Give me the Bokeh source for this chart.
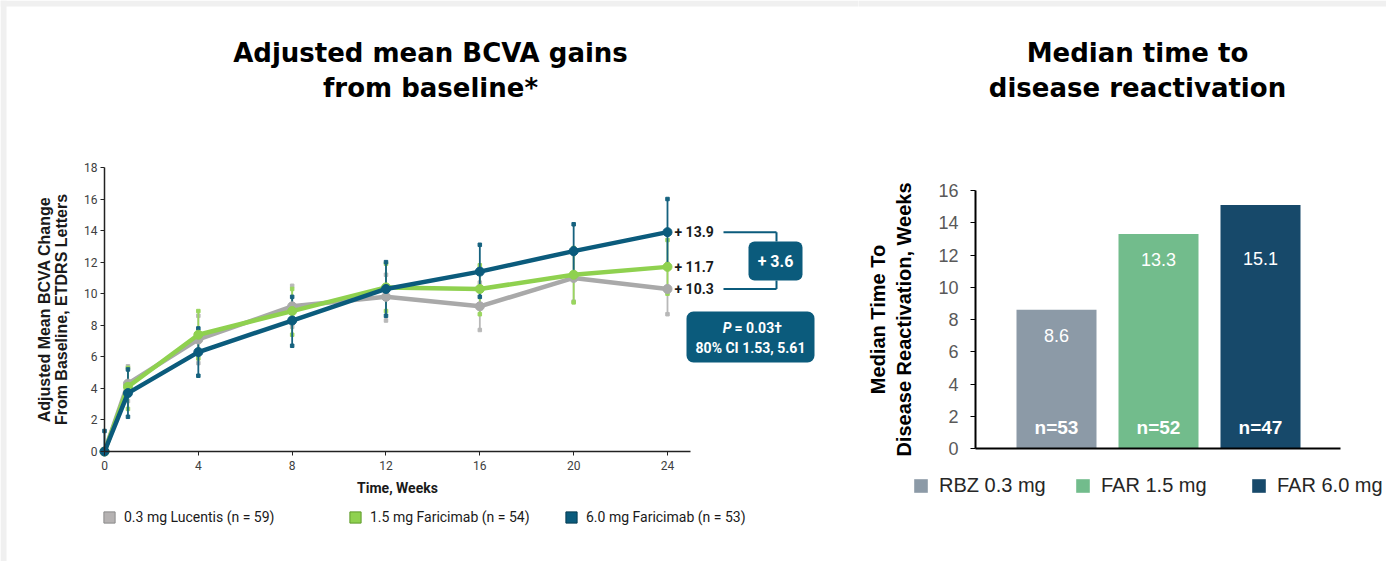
from bokeh.plotting import figure
from bokeh.models import (Range1d, FixedTicker, Label, BoxAnnotation,
                          Legend, LegendItem, ColumnDataSource)
from bokeh.layouts import row
from bokeh.embed import file_html
from bokeh.resources import INLINE
from bokeh.core.properties import value

# ---------------- data: left chart (BCVA change) ----------------
weeks = [0, 1, 4, 8, 12, 16, 20, 24]
x_ticks = [0, 4, 8, 12, 16, 20, 24]
y_ticks = [0, 2, 4, 6, 8, 10, 12, 14, 16, 18]

lucentis = [0, 4.3, 7.1, 9.2, 9.8, 9.2, 11.0, 10.3]
lucentis_lo = [0, 3.2, 5.6, 7.9, 8.3, 7.7, 9.5, 8.7]
lucentis_hi = [0, 5.4, 8.6, 10.5, 11.2, 10.7, 12.5, 11.9]

far15 = [0, 4.1, 7.4, 8.9, 10.4, 10.3, 11.2, 11.7]
far15_lo = [0, 2.7, 5.9, 7.4, 8.9, 8.7, 9.45, 10.0]
far15_hi = [0, 5.3, 8.9, 10.3, 11.9, 11.8, 12.9, 13.4]

far60 = [0, 3.7, 6.3, 8.3, 10.3, 11.4, 12.7, 13.9]
far60_lo = [0, 2.2, 4.8, 6.7, 8.6, 9.8, 11.0, 11.8]
far60_hi = [1.3, 5.2, 7.8, 9.8, 12.0, 13.1, 14.4, 16.0]

series_labels = ["0.3 mg Lucentis (n = 59)", "1.5 mg Faricimab (n = 54)",
                 "6.0 mg Faricimab (n = 53)"]
p_value = "0.03"
ci_low, ci_high = "1.53", "5.61"

# ---------------- data: right chart (median time) ----------------
groups = ["RBZ 0.3 mg", "FAR 1.5 mg", "FAR 6.0 mg"]
median_weeks = [8.6, 13.3, 15.1]
n_patients = [53, 52, 47]
bar_y_ticks = [0, 2, 4, 6, 8, 10, 12, 14, 16]

# ---------------- styles ----------------
NARROW = "Roboto"
BASE = "Liberation Sans"
TITLE_FONT = "DejaVu Sans"
GRAY, GREEN, BLUE = "#a9a9a9", "#8fd14f", "#0b5b7c"
GRAY_ERR, GREEN_ERR, BLUE_ERR = "#b8b8b8", "#9ad65e", "#16627f"
BAR_COLORS = ["#8c9aa7", "#72bc8c", "#17496a"]
PAGE_BG = "#f0f0f0"
W_LEFT, W_RIGHT, H = 858, 528, 561


# pixel -> data helpers (layout only)
def lx(px):
    return (px - 104) / 23.458


def ly(py):
    return (451 - py) / 15.78


def rx(px):
    return 1 + (px - 1056) / 102.0


def ry(py):
    return (448 - py) / 16.125


# =================== LEFT FIGURE ===================
left = figure(width=W_LEFT, height=H, x_range=Range1d(lx(0), lx(W_LEFT)),
              y_range=Range1d(ly(H), ly(0)),
              output_backend="svg", toolbar_location=None, tools="",
              min_border=0)
left.outline_line_color = None
left.grid.visible = False
left.background_fill_color = "white"
left.border_fill_color = "white"

# light page border strips (top and left)
left.add_layout(BoxAnnotation(left=lx(0), right=lx(W_LEFT + 2), top=ly(0), bottom=ly(6),
                              fill_color=PAGE_BG, fill_alpha=1, line_color=None,
                              level="underlay"))
left.add_layout(BoxAnnotation(left=lx(0), right=lx(6), top=ly(0), bottom=ly(H),
                              fill_color=PAGE_BG, fill_alpha=1, line_color=None,
                              level="underlay"))

xa = left.xaxis[0]
xa.fixed_location = 0
xa.bounds = (0, 25)
xa.ticker = FixedTicker(ticks=x_ticks)
xa.axis_label = "Time, Weeks"
xa.axis_label_text_font = NARROW
xa.axis_label_text_font_style = "bold"
xa.axis_label_text_font_size = "14px"
xa.axis_label_text_color = "#1a1a1a"
xa.axis_label_standoff = 7
xa.major_label_text_font = NARROW
xa.major_label_text_font_size = "12px"
xa.major_label_text_color = "#404040"
xa.major_label_standoff = 5
xa.major_tick_out = 4
xa.major_tick_in = 0
xa.minor_tick_line_color = None
xa.axis_line_width = 1.5
xa.axis_line_color = "#222222"
xa.major_tick_line_color = "#222222"

ya = left.yaxis[0]
ya.fixed_location = 0
ya.bounds = (0, 18)
ya.ticker = FixedTicker(ticks=y_ticks)
ya.axis_label = "Adjusted Mean BCVA Change\nFrom Baseline, ETDRS Letters"
ya.axis_label_text_font = BASE
ya.axis_label_text_font_style = "bold"
ya.axis_label_text_font_size = "16px"
ya.axis_label_text_line_height = 1.0
ya.axis_label_text_color = "#1a1a1a"
ya.axis_label_standoff = 11
ya.major_label_text_font = NARROW
ya.major_label_text_font_size = "12px"
ya.major_label_text_color = "#404040"
ya.major_label_standoff = 3
ya.major_tick_out = 4
ya.major_tick_in = 0
ya.minor_tick_line_color = None
ya.axis_line_width = 1.5
ya.axis_line_color = "#222222"
ya.major_tick_line_color = "#222222"

series = [
    (lucentis, lucentis_lo, lucentis_hi, GRAY, GRAY_ERR),
    (far15, far15_lo, far15_hi, GREEN, GREEN_ERR),
    (far60, far60_lo, far60_hi, BLUE, BLUE_ERR),
]

# legend proxy renderers (zero-size, hidden under the origin marker)
legend_line = ["#8a8a8a", "#5f9a2a", "#063c52"]
proxies = []
for (vals, lo, hi, c, ce), lc in zip(series, legend_line):
    fill = "#b5b2b2" if c == GRAY else c
    proxies.append(left.vbar(x=[weeks[0]], top=[0], bottom=[0], width=0,
                             fill_color=fill, line_color=lc, level="underlay"))

# error bars
for vals, lo, hi, c, ce in series:
    left.segment(x0=weeks, y0=lo, x1=weeks, y1=hi, line_color=ce, line_width=1.8)
    left.scatter(x=weeks + weeks, y=lo + hi, marker="square", size=3.5,
                 fill_color=ce, line_color=ce)
# lines and markers
for vals, lo, hi, c, ce in series:
    left.line(weeks, vals, line_color=c, line_width=4.5, line_join="round")
    left.scatter(weeks, vals, size=9, fill_color=c, line_color=c)

# end value labels
last_vals = [s[0][-1] for s in series]
left.text(x=[weeks[-1]] * 3, y=last_vals, text=[f"+ {v:.1f}" for v in last_vals],
          x_offset=7, text_baseline="middle", text_align="left",
          text_font=value(NARROW), text_font_style="bold", text_font_size="14px",
          text_color="#1a1a1a")

# bracket and difference box
diff = far60[-1] - lucentis[-1]
bx0, bx1 = lx(723), lx(776)
box_top, box_bot = ly(241), ly(280)
left.segment(x0=[bx0, bx1, bx0, bx1],
             y0=[far60[-1], far60[-1], lucentis[-1], lucentis[-1]],
             x1=[bx1, bx1, bx1, bx1],
             y1=[far60[-1], box_top, lucentis[-1], box_bot],
             line_color=BLUE, line_width=2)
left.add_layout(BoxAnnotation(left=lx(748), right=lx(802), top=box_top, bottom=box_bot,
                              fill_color=BLUE, fill_alpha=1, line_color=None,
                              border_radius=6))
left.add_layout(Label(x=lx(775), y=(box_top + box_bot) / 2, text=f"+ {diff:.1f}",
                      text_align="center", text_baseline="middle", text_color="white",
                      text_font=NARROW, text_font_style="bold", text_font_size="16px"))

# P value box
left.add_layout(BoxAnnotation(left=lx(686), right=lx(814), top=ly(311), bottom=ly(362),
                              fill_color=BLUE, fill_alpha=1, line_color=None,
                              border_radius=7))
left.add_layout(Label(x=lx(731), y=ly(327), text="P", text_align="right",
                      text_baseline="middle", text_color="white", text_font=NARROW,
                      text_font_style="bold italic", text_font_size="14px"))
left.add_layout(Label(x=lx(731), y=ly(327), x_offset=3, text=f"= {p_value}\u2020",
                      text_align="left", text_baseline="middle", text_color="white",
                      text_font=NARROW, text_font_style="bold", text_font_size="14px"))
left.add_layout(Label(x=lx(750), y=ly(347), text=f"80% CI {ci_low}, {ci_high}",
                      text_align="center", text_baseline="middle", text_color="white",
                      text_font=NARROW, text_font_style="bold", text_font_size="14px"))

# legend (square swatches)
legend_x = [102, 348, 564]
for lab, r, lpx in zip(series_labels, proxies, legend_x):
    lg = Legend(items=[LegendItem(label=lab, renderers=[r])], location=(lpx, H - 525),
                orientation="horizontal", padding=0, margin=0, spacing=0,
                glyph_width=14, glyph_height=14, label_standoff=8,
                label_text_font=NARROW, label_text_font_size="14px",
                label_text_color="#1a1a1a", label_height=14,
                border_line_color=None, background_fill_alpha=0)
    left.add_layout(lg)

# title
for txt, py in [("Adjusted mean BCVA gains", 52), ("from baseline*", 87)]:
    left.add_layout(Label(x=lx(430), y=ly(py), text=txt,
                          text_align="center", text_baseline="alphabetic",
                          text_font=TITLE_FONT, text_font_style="bold",
                          text_font_size="26px", text_color="black"))

# =================== RIGHT FIGURE ===================
right = figure(width=W_RIGHT, height=H, x_range=Range1d(rx(W_LEFT), rx(W_LEFT + W_RIGHT)),
               y_range=Range1d(ry(H), ry(0)),
               output_backend="svg", toolbar_location=None, tools="",
               min_border=0)
right.outline_line_color = None
right.grid.visible = False
right.background_fill_color = "white"
right.border_fill_color = "white"
right.add_layout(BoxAnnotation(left=rx(W_LEFT - 2), right=rx(W_LEFT + W_RIGHT), top=ry(0),
                               bottom=ry(6), fill_color=PAGE_BG, fill_alpha=1,
                               line_color=None, level="underlay"))

bar_x = [i + 1 for i in range(len(groups))]
src = ColumnDataSource(dict(
    x=bar_x,
    group=groups,
    weeks=median_weeks,
    color=BAR_COLORS,
    label_y=[min(v - 1.6, 11.8) for v in median_weeks],
    value_text=[f"{v:.1f}" for v in median_weeks],
    n_text=[f"n={n}" for n in n_patients],
))
bars = right.vbar(x="x", top="weeks", width=80 / 102.0, fill_color="color",
                  line_color=None, source=src)
right.text(x="x", y="label_y", text="value_text", source=src, text_align="center",
           text_baseline="middle", text_color="white", text_font=value(BASE),
           text_font_size="18px")
right.text(x="x", y=1.3, text="n_text", source=src, text_align="center",
           text_baseline="middle", text_color="white", text_font=value(BASE),
           text_font_style="bold", text_font_size="19px")

rxa = right.xaxis[0]
rxa.fixed_location = 0
rxa.bounds = (rx(975), rx(1340))
rxa.ticker = FixedTicker(ticks=[])
rxa.major_label_text_color = None
rxa.major_tick_line_color = None
rxa.minor_tick_line_color = None
rxa.axis_line_width = 2
rxa.axis_line_color = "black"

rya = right.yaxis[0]
rya.fixed_location = rx(975)
rya.bounds = (0, 16)
rya.ticker = FixedTicker(ticks=bar_y_ticks)
rya.axis_label = "Median Time To\nDisease Reactivation, Weeks"
rya.axis_label_text_font = BASE
rya.axis_label_text_font_style = "bold"
rya.axis_label_text_font_size = "20px"
rya.axis_label_text_line_height = 1.2
rya.axis_label_text_color = "black"
rya.axis_label_standoff = 20
rya.major_label_text_font = BASE
rya.major_label_text_font_size = "18px"
rya.major_label_text_color = "#595959"
rya.major_label_standoff = 12
rya.major_tick_out = 5
rya.major_tick_in = 0
rya.minor_tick_line_color = None
rya.axis_line_width = 2
rya.axis_line_color = "black"
rya.major_tick_line_color = "black"

for i, (g, lpx) in enumerate(zip(groups, [912, 1074, 1250])):
    lg = Legend(items=[LegendItem(label=g, renderers=[bars], index=i)],
                location=(lpx - W_LEFT, H - 497),
                orientation="horizontal", padding=0, margin=0, spacing=0,
                glyph_width=17, glyph_height=17, label_standoff=10,
                label_text_font=BASE, label_text_font_size="20px",
                label_text_color="#262626", label_height=17,
                border_line_color=None, background_fill_alpha=0)
    right.add_layout(lg)

for txt, py in [("Median time to", 52), ("disease reactivation", 87)]:
    right.add_layout(Label(x=rx(1137), y=ry(py), text=txt,
                           text_align="center", text_baseline="alphabetic",
                           text_font=TITLE_FONT, text_font_style="bold",
                           text_font_size="26px", text_color="black"))

layout = row(left, right)
open("out.html", "w").write(file_html(layout, INLINE))
